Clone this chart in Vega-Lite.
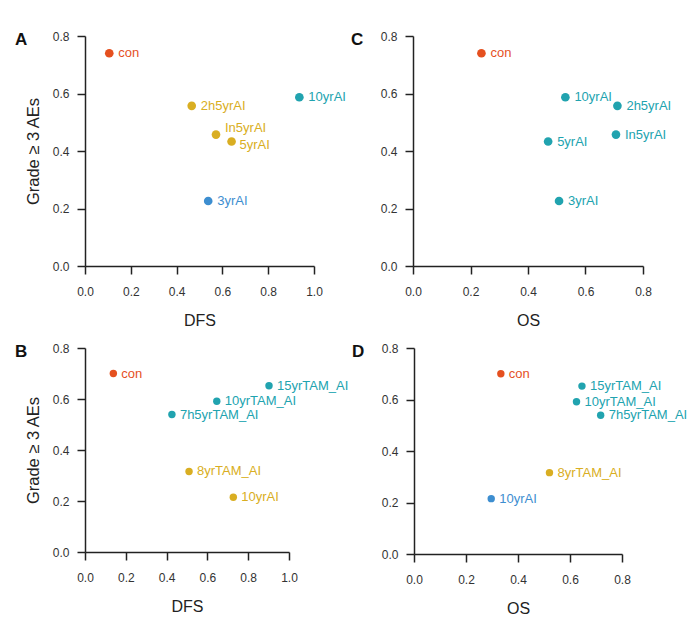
{
  "$schema": "https://vega.github.io/schema/vega-lite/v6.json",
  "padding": {"left": 15, "top": 30, "right": 5, "bottom": 5},
  "background": "white",
  "data": {"values": [
    {"panel": "A", "regimen": "con", "survival": 0.106, "ae": 0.74, "group": "control"},
    {"panel": "A", "regimen": "10yrAI", "survival": 0.936, "ae": 0.587, "group": "teal"},
    {"panel": "A", "regimen": "2h5yrAI", "survival": 0.466, "ae": 0.557, "group": "yellow"},
    {"panel": "A", "regimen": "In5yrAI", "survival": 0.572, "ae": 0.457, "group": "yellow"},
    {"panel": "A", "regimen": "5yrAI", "survival": 0.64, "ae": 0.433, "group": "yellow"},
    {"panel": "A", "regimen": "3yrAI", "survival": 0.538, "ae": 0.226, "group": "blue"},
    {"panel": "C", "regimen": "con", "survival": 0.238, "ae": 0.74, "group": "control"},
    {"panel": "C", "regimen": "10yrAI", "survival": 0.53, "ae": 0.587, "group": "teal"},
    {"panel": "C", "regimen": "2h5yrAI", "survival": 0.711, "ae": 0.557, "group": "teal"},
    {"panel": "C", "regimen": "In5yrAI", "survival": 0.706, "ae": 0.457, "group": "teal"},
    {"panel": "C", "regimen": "5yrAI", "survival": 0.47, "ae": 0.433, "group": "teal"},
    {"panel": "C", "regimen": "3yrAI", "survival": 0.508, "ae": 0.226, "group": "teal"},
    {"panel": "B", "regimen": "con", "survival": 0.139, "ae": 0.70, "group": "control"},
    {"panel": "B", "regimen": "15yrTAM_AI", "survival": 0.902, "ae": 0.652, "group": "teal"},
    {"panel": "B", "regimen": "10yrTAM_AI", "survival": 0.646, "ae": 0.591, "group": "teal"},
    {"panel": "B", "regimen": "7h5yrTAM_AI", "survival": 0.426, "ae": 0.539, "group": "teal"},
    {"panel": "B", "regimen": "8yrTAM_AI", "survival": 0.51, "ae": 0.316, "group": "yellow"},
    {"panel": "B", "regimen": "10yrAI", "survival": 0.727, "ae": 0.215, "group": "yellow"},
    {"panel": "D", "regimen": "con", "survival": 0.334, "ae": 0.70, "group": "control"},
    {"panel": "D", "regimen": "15yrTAM_AI", "survival": 0.646, "ae": 0.652, "group": "teal"},
    {"panel": "D", "regimen": "10yrTAM_AI", "survival": 0.625, "ae": 0.591, "group": "teal"},
    {"panel": "D", "regimen": "7h5yrTAM_AI", "survival": 0.718, "ae": 0.539, "group": "teal"},
    {"panel": "D", "regimen": "8yrTAM_AI", "survival": 0.521, "ae": 0.316, "group": "yellow"},
    {"panel": "D", "regimen": "10yrAI", "survival": 0.297, "ae": 0.215, "group": "blue"}
  ]},
  "config": {
    "font": "Liberation Sans",
    "view": {"stroke": null},
    "axis": {
      "grid": false,
      "labelFlush": false,
      "domainColor": "#222",
      "domainWidth": 1.5,
      "tickColor": "#222",
      "tickWidth": 1.5,
      "tickSize": 8,
      "labelFontSize": 12,
      "labelColor": "#333",
      "labelFont": "Liberation Sans",
      "titleFont": "Liberation Sans",
      "titleFontWeight": "normal",
      "titleColor": "#222"
    },
    "axisX": {"labelPadding": 12, "titlePadding": 15, "titleFontSize": 16},
    "axisY": {"labelPadding": 8, "titlePadding": 11, "titleFontSize": 16.5},
    "title": {"fontSize": 17, "fontWeight": "bold", "color": "#111", "anchor": "start", "frame": "group", "baseline": "alphabetic", "offset": 0}
  },
  "spacing": 14,
  "vconcat": [
    {
      "bounds": "flush",
      "spacing": 99,
      "hconcat": [
        {
          "width": 229, "height": 230,
          "title": {"text": "A", "dx": -70, "dy": 23},
          "transform": [{"filter": "datum.panel === 'A'"}],
          "encoding": {
            "x": {"field": "survival", "type": "quantitative", "scale": {"domain": [0, 1]}, "axis": {"title": "DFS", "values": [0, 0.2, 0.4, 0.6, 0.8, 1.0], "format": ".1f"}},
            "y": {"field": "ae", "type": "quantitative", "scale": {"domain": [0, 0.8]}, "axis": {"title": "Grade ≥ 3 AEs", "values": [0, 0.2, 0.4, 0.6, 0.8], "format": ".1f"}},
            "color": {"field": "group", "type": "nominal", "scale": {"domain": ["control", "yellow", "teal", "blue"], "range": ["#E5501F", "#D9AE22", "#21A3AF", "#3D8ED0"]}, "legend": null}
          },
          "layer": [
            {"mark": {"type": "circle", "size": 75, "opacity": 1}},
            {"transform": [{"filter": "datum.regimen !== 'In5yrAI' && datum.regimen !== '5yrAI'"}], "mark": {"type": "text", "align": "left", "baseline": "middle", "dx": 9, "fontSize": 13}, "encoding": {"text": {"field": "regimen"}}},
            {"transform": [{"filter": "datum.regimen === 'In5yrAI'"}], "mark": {"type": "text", "align": "left", "baseline": "middle", "dx": 9, "dy": -7, "fontSize": 13}, "encoding": {"text": {"field": "regimen"}}},
            {"transform": [{"filter": "datum.regimen === '5yrAI'"}], "mark": {"type": "text", "align": "left", "baseline": "middle", "dx": 8, "dy": 3, "fontSize": 13}, "encoding": {"text": {"field": "regimen"}}}
          ]
        },
        {
          "width": 230, "height": 230,
          "title": {"text": "C", "dx": -62, "dy": 23},
          "transform": [{"filter": "datum.panel === 'C'"}],
          "encoding": {
            "x": {"field": "survival", "type": "quantitative", "scale": {"domain": [0, 0.8]}, "axis": {"title": "OS", "values": [0, 0.2, 0.4, 0.6, 0.8], "format": ".1f"}},
            "y": {"field": "ae", "type": "quantitative", "scale": {"domain": [0, 0.8]}, "axis": {"title": null, "values": [0, 0.2, 0.4, 0.6, 0.8], "format": ".1f"}},
            "color": {"field": "group", "type": "nominal", "scale": {"domain": ["control", "yellow", "teal", "blue"], "range": ["#E5501F", "#D9AE22", "#21A3AF", "#3D8ED0"]}, "legend": null}
          },
          "layer": [
            {"mark": {"type": "circle", "size": 75, "opacity": 1}},
            {"mark": {"type": "text", "align": "left", "baseline": "middle", "dx": 9, "fontSize": 13}, "encoding": {"text": {"field": "regimen"}}}
          ]
        }
      ]
    },
    {
      "bounds": "flush",
      "spacing": 125,
      "hconcat": [
        {
          "width": 204, "height": 204,
          "title": {"text": "B", "dx": -70, "dy": 23},
          "transform": [{"filter": "datum.panel === 'B'"}],
          "encoding": {
            "x": {"field": "survival", "type": "quantitative", "scale": {"domain": [0, 1]}, "axis": {"title": "DFS", "values": [0, 0.2, 0.4, 0.6, 0.8, 1.0], "format": ".1f"}},
            "y": {"field": "ae", "type": "quantitative", "scale": {"domain": [0, 0.8]}, "axis": {"title": "Grade ≥ 3 AEs", "values": [0, 0.2, 0.4, 0.6, 0.8], "format": ".1f"}},
            "color": {"field": "group", "type": "nominal", "scale": {"domain": ["control", "yellow", "teal", "blue"], "range": ["#E5501F", "#D9AE22", "#21A3AF", "#3D8ED0"]}, "legend": null}
          },
          "layer": [
            {"mark": {"type": "circle", "size": 55, "opacity": 1}},
            {"mark": {"type": "text", "align": "left", "baseline": "middle", "dx": 8, "fontSize": 13}, "encoding": {"text": {"field": "regimen"}}}
          ]
        },
        {
          "width": 208, "height": 206,
          "title": {"text": "D", "dx": -62, "dy": 23},
          "transform": [{"filter": "datum.panel === 'D'"}],
          "encoding": {
            "x": {"field": "survival", "type": "quantitative", "scale": {"domain": [0, 0.8]}, "axis": {"title": "OS", "values": [0, 0.2, 0.4, 0.6, 0.8], "format": ".1f"}},
            "y": {"field": "ae", "type": "quantitative", "scale": {"domain": [0, 0.8]}, "axis": {"title": null, "values": [0, 0.2, 0.4, 0.6, 0.8], "format": ".1f"}},
            "color": {"field": "group", "type": "nominal", "scale": {"domain": ["control", "yellow", "teal", "blue"], "range": ["#E5501F", "#D9AE22", "#21A3AF", "#3D8ED0"]}, "legend": null}
          },
          "layer": [
            {"mark": {"type": "circle", "size": 55, "opacity": 1}},
            {"mark": {"type": "text", "align": "left", "baseline": "middle", "dx": 8, "fontSize": 13}, "encoding": {"text": {"field": "regimen"}}}
          ]
        }
      ]
    }
  ]
}
